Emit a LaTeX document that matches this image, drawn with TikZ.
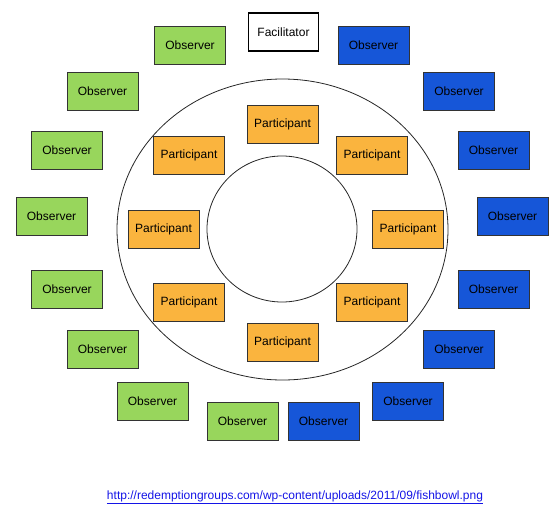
\documentclass[tikz,border=0pt]{standalone}
\usepackage{fontspec}
\setmainfont{Liberation Sans}
\usepackage{tikz}
\usetikzlibrary{positioning}
\definecolor{obsgreen}{RGB}{152,214,92}
\definecolor{obsblue}{RGB}{22,86,216}
\definecolor{partorange}{RGB}{250,180,62}
\definecolor{linkblue}{RGB}{20,20,230}
\tikzset{
    base/.style = {rectangle, draw=black!80, line width=0.9pt, minimum width=71pt, minimum height=38pt, inner sep=0pt, text centered, font=\fontsize{12}{14}\selectfont},
    greenobs/.style = {base, fill=obsgreen},
    blueobs/.style  = {base, fill=obsblue},
    part/.style     = {base, fill=partorange},
    facil/.style    = {base, draw=black, line width=1.6pt, fill=white, minimum width=70pt},
    ring/.style     = {draw=black!85, line width=0.8pt},
    link/.style     = {text=linkblue, font=\fontsize{12}{14}\selectfont}
}

\begin{document}
\begin{tikzpicture}[x=1pt, y=-1pt]
    \useasboundingbox (0,0) rectangle (558,523);

    % Fishbowl rings
    \draw [ring] (282.5,229.5) ellipse [x radius=165.5pt, y radius=150.5pt];
    \draw [ring] (282,229) ellipse [x radius=75pt, y radius=73pt];

    % Facilitator
    \node (facil) [facil] at (283.5,32) {Facilitator};

    % Observers, green half
    \node (gobs1) [greenobs] at (190,45) {Observer};
    \node (gobs2) [greenobs] at (102.5,91.5) {Observer};
    \node (gobs3) [greenobs] at (67,150.5) {Observer};
    \node (gobs4) [greenobs] at (51.5,216) {Observer};
    \node (gobs5) [greenobs] at (67,289.5) {Observer};
    \node (gobs6) [greenobs] at (102.5,349.5) {Observer};
    \node (gobs7) [greenobs] at (152.5,401) {Observer};
    \node (gobs8) [greenobs] at (242.5,421.5) {Observer};

    % Observers, blue half
    \node (bobs1) [blueobs] at (373.5,45) {Observer};
    \node (bobs2) [blueobs] at (459,91.5) {Observer};
    \node (bobs3) [blueobs] at (493.5,150.5) {Observer};
    \node (bobs4) [blueobs] at (512.5,216) {Observer};
    \node (bobs5) [blueobs] at (493.5,289.5) {Observer};
    \node (bobs6) [blueobs] at (459,349.5) {Observer};
    \node (bobs7) [blueobs] at (408,401) {Observer};
    \node (bobs8) [blueobs] at (323.5,421.5) {Observer};

    % Participants in the outer ring
    \node (ptop)   [part] at (282.5,124) {Participant};
    \node (pleftu) [part] at (189,155) {Participant};
    \node (prightu)[part] at (372,155) {Participant};
    \node (pleft)  [part] at (163.5,229) {Participant};
    \node (pright) [part] at (408,229) {Participant};
    \node (pleftd) [part] at (189,302) {Participant};
    \node (prightd)[part] at (372,302) {Participant};
    \node (pbot)   [part] at (282.5,342.5) {Participant};

    % Source link
    \node (source) [link] at (295,497) {\underline{http://redemptiongroups.com/wp-content/uploads/2011/09/fishbowl.png}};
\end{tikzpicture}
\end{document}
